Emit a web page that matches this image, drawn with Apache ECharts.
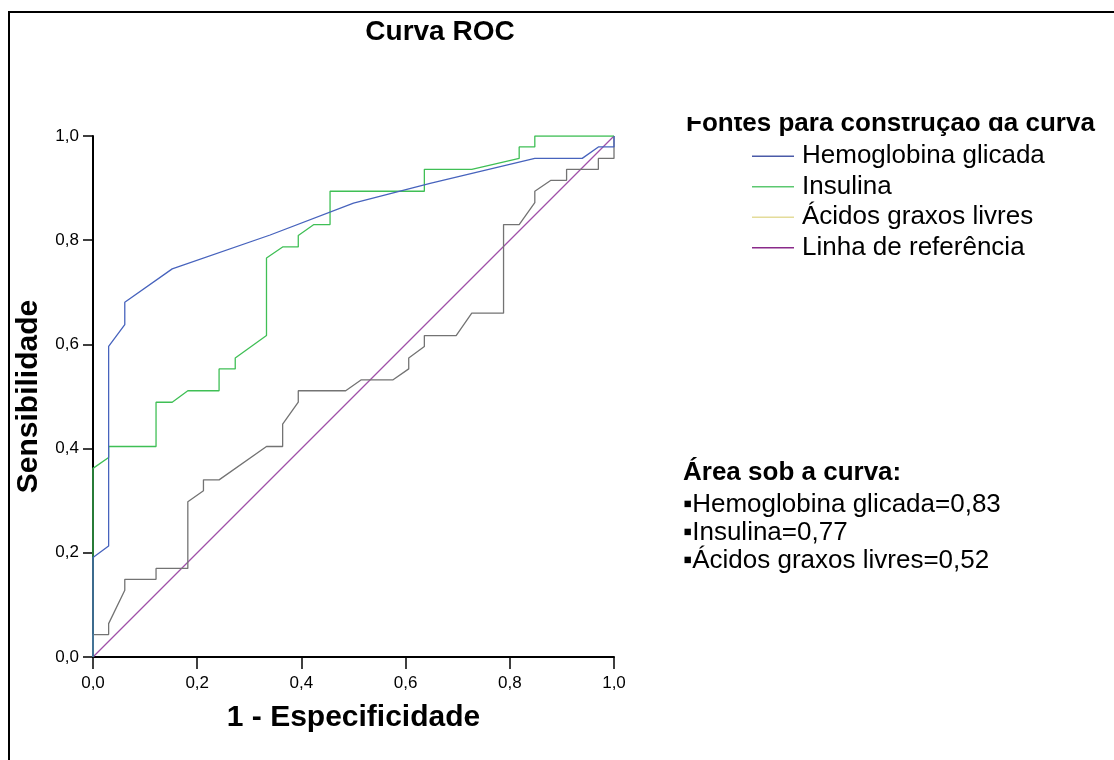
<!DOCTYPE html>
<html>
<head>
<meta charset="utf-8">
<script src="https://cdn.jsdelivr.net/npm/echarts@6/dist/echarts.min.js"></script>
<style>
  html, body { margin: 0; padding: 0; background: #fff; }
  #chart { width: 1114px; height: 760px; }
</style>
</head>
<body>
<div id="chart"></div>
<script>
// tick labels
const tickLabels = ['0,0', '0,2', '0,4', '0,6', '0,8', '1,0'];

// ROC points: [1 - especificidade, sensibilidade]
const hemoglobina = [
  [0, 0], [0, 0.191], [0.030, 0.213], [0.030, 0.596], [0.061, 0.638], [0.061, 0.681],
  [0.152, 0.745], [0.34, 0.81], [0.5, 0.871], [0.647, 0.909], [0.848, 0.957],
  [0.939, 0.957], [0.970, 0.979], [1, 0.979], [1, 1]
];
const insulina = [
  [0, 0], [0, 0.362], [0.030, 0.383], [0.030, 0.404], [0.121, 0.404], [0.121, 0.489],
  [0.152, 0.489], [0.182, 0.511], [0.242, 0.511], [0.242, 0.553], [0.273, 0.553],
  [0.273, 0.574], [0.333, 0.617], [0.333, 0.766], [0.364, 0.787], [0.394, 0.787],
  [0.394, 0.809], [0.424, 0.830], [0.455, 0.830], [0.455, 0.894], [0.636, 0.894],
  [0.636, 0.936], [0.727, 0.936], [0.818, 0.957], [0.818, 0.979], [0.848, 0.979],
  [0.848, 1], [1, 1]
];
const acidosGraxos = [
  [0, 0], [0, 0.043], [0.030, 0.043], [0.030, 0.064], [0.061, 0.128], [0.061, 0.149],
  [0.121, 0.149], [0.121, 0.170], [0.182, 0.170], [0.182, 0.298], [0.212, 0.319],
  [0.212, 0.340], [0.242, 0.340], [0.333, 0.404], [0.364, 0.404], [0.364, 0.447],
  [0.394, 0.489], [0.394, 0.511], [0.485, 0.511], [0.515, 0.532], [0.576, 0.532],
  [0.606, 0.553], [0.606, 0.574], [0.636, 0.596], [0.636, 0.617], [0.697, 0.617],
  [0.727, 0.660], [0.788, 0.660], [0.788, 0.830], [0.818, 0.830], [0.848, 0.872],
  [0.848, 0.894], [0.879, 0.915], [0.909, 0.915], [0.909, 0.936], [0.970, 0.936],
  [0.970, 0.957], [1, 0.957], [1, 1]
];
const referencia = [[0, 0], [1, 1]];

const seriesNames = ['Hemoglobina glicada', 'Insulina', 'Ácidos graxos livres', 'Linha de referência'];
const aucLines = ['▪Hemoglobina glicada=0,83', '▪Insulina=0,77', '▪Ácidos graxos livres=0,52'];

const FONT = '"Liberation Sans", Arial, sans-serif';
const chart = echarts.init(document.getElementById('chart'));

function lineSeries(name, data, color, z) {
  return {
    name, type: 'line', data, symbol: 'none', z,
    lineStyle: { color, width: 1.3 },
    itemStyle: { color },
    emphasis: { disabled: true },
    animation: false
  };
}

function label(text, x, y, font, align) {
  return {
    type: 'text', silent: true, z: 60,
    style: { text, x, y, font: font + ' ' + FONT, fill: '#000', align: align || 'left', verticalAlign: 'middle' }
  };
}

chart.setOption({
  backgroundColor: '#fff',
  animation: false,
  grid: { left: 93, top: 136, width: 521, height: 521, containLabel: false },
  xAxis: {
    type: 'value', min: 0, max: 1, interval: 0.2,
    name: '1 - Especificidade', nameLocation: 'middle', nameGap: 46,
    nameTextStyle: { fontFamily: FONT, fontSize: 30, fontWeight: 'bold', color: '#000' },
    axisLine: { show: true, onZero: false, lineStyle: { color: '#000', width: 2 } },
    axisTick: { show: true, length: 12, inside: false, lineStyle: { color: '#000', width: 1.5 } },
    axisLabel: {
      margin: 18, fontFamily: FONT, fontSize: 17, color: '#000',
      formatter: v => tickLabels[Math.round(v * 5)]
    },
    splitLine: { show: false }
  },
  yAxis: {
    type: 'value', min: 0, max: 1, interval: 0.2,
    name: 'Sensibilidade', nameLocation: 'middle', nameGap: 49, nameRotate: 90,
    nameTextStyle: { fontFamily: FONT, fontSize: 30, fontWeight: 'bold', color: '#000' },
    axisLine: { show: true, onZero: false, lineStyle: { color: '#000', width: 2 } },
    axisTick: { show: true, length: 10, inside: false, lineStyle: { color: '#000', width: 1.5 } },
    axisLabel: {
      margin: 14, fontFamily: FONT, fontSize: 17, color: '#000',
      formatter: v => tickLabels[Math.round(v * 5)]
    },
    splitLine: { show: false }
  },
  legend: {
    orient: 'vertical', left: 752, top: 141, itemGap: 0, padding: 0,
    icon: 'rect', itemWidth: 42, itemHeight: 1.5,
    selectedMode: false,
    textStyle: { fontFamily: FONT, fontSize: 26, lineHeight: 30.5, color: '#000', padding: [0, 0, 0, 3] },
    data: [
      { name: seriesNames[0], itemStyle: { color: '#4a5aa8' } },
      { name: seriesNames[1], itemStyle: { color: '#5cc870' } },
      { name: seriesNames[2], itemStyle: { color: '#e4dc9a' } },
      { name: seriesNames[3], itemStyle: { color: '#8a2a8a' } }
    ]
  },
  series: [
    lineSeries(seriesNames[0], hemoglobina, '#4763bd', 4),
    lineSeries(seriesNames[1], insulina, '#3fbf55', 3),
    lineSeries(seriesNames[2], acidosGraxos, '#737373', 2),
    lineSeries(seriesNames[3], referencia, '#a050a8', 1)
  ],
  graphic: [
    {
      type: 'rect', silent: true, z: 100,
      shape: { x: 9, y: 12, width: 1200, height: 800 },
      style: { fill: 'none', stroke: '#000', lineWidth: 2 }
    },
    label('Curva ROC', 440, 32, 'bold 28px', 'center'),
    label('Fontes para construção da curva', 686, 124, 'bold 26px'),
    {
      type: 'rect', silent: true, z: 70,
      shape: { x: 680, y: 90, width: 430, height: 27 },
      style: { fill: '#fff' }
    },
    label('Área sob a curva:', 683, 473, 'bold 26px'),
    label(aucLines[0], 683, 505, '26px'),
    label(aucLines[1], 683, 533, '26px'),
    label(aucLines[2], 683, 561, '26px')
  ]
});

window.addEventListener('resize', () => chart.resize());
</script>
</body>
</html>
